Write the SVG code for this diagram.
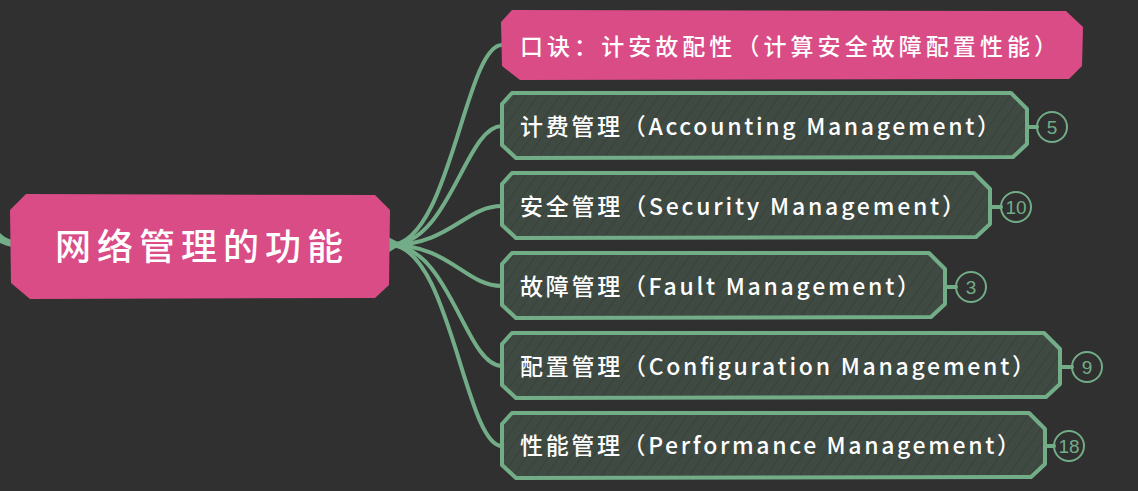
<svg xmlns="http://www.w3.org/2000/svg" width="1138" height="491" viewBox="0 0 1138 491">
<defs>
<pattern id="hatch" width="9" height="9" patternUnits="userSpaceOnUse" patternTransform="rotate(35)">
<rect width="9" height="9" fill="#3f4a43"/>
<line x1="0" y1="0" x2="0" y2="9" stroke="#323a34" stroke-width="1.2"/>
</pattern>
<style>
.conn{fill:none;stroke:#72ad88;stroke-width:4;stroke-linecap:round}
.sub{fill:url(#hatch);stroke:#72ad88;stroke-width:4;stroke-linejoin:round}
.pink{fill:#d94c86}
.t{font-family:"Noto Sans CJK SC","Noto Sans",sans-serif;fill:#ffffff;font-size:23px;font-weight:500}
.big{font-size:36px}
.badge{fill:none;stroke:#72ad88;stroke-width:2}
.bt{font-family:"Liberation Sans",Arial,sans-serif;fill:#72ad88;font-size:19px;text-anchor:middle}
</style>
</defs>
<rect width="1138" height="491" fill="#303030"/>
<g id="connectors">
<path d="M12,240 C6,238 3,236 0,233 L0,243 C4,245 8,246 12,247 Z" fill="#72ad88"/>
<path d="M386,236 L402,244 L386,254 Z" fill="#72ad88"/>
<path class="conn" d="M390,245 C450,245 465,45 502,45"/>
<path class="conn" d="M390,245 C450,245 465,126 502,126"/>
<path class="conn" d="M390,245 C450,245 465,206 502,206"/>
<path class="conn" d="M390,245 C450,245 465,286 502,286"/>
<path class="conn" d="M390,245 C450,245 465,366 502,366"/>
<path class="conn" d="M390,245 C450,245 465,446 502,446"/>
<path class="conn" stroke-width="3" d="M1027,127 L1037,127"/>
<path class="conn" stroke-width="3" d="M990,207 L1001,207"/>
<path class="conn" stroke-width="3" d="M945,287 L956,287"/>
<path class="conn" stroke-width="3" d="M1060,367 L1072,367"/>
<path class="conn" stroke-width="3" d="M1045,446 L1054,446"/>
</g>
<g id="root">
<path class="pink" d="M26,194 L375,195 L390,210 L389,285 L375,298 L30,299 L11,283 L10,210 Z"/>
<text class="t big" x="55" y="260" textLength="288" lengthAdjust="spacing">网络管理的功能</text>
</g>
<g id="n-mnemonic">
<path class="pink" d="M512,10 L1066,11 L1083,27 L1082,66 L1069,79 L520,80 L502,66 L501,22 Z"/>
<text class="t" x="520" y="55" textLength="537" lengthAdjust="spacing">口诀：计安故配性（计算安全故障配置性能）</text>
</g>
<g id="n-accounting">
<path class="sub" d="M512,93 L1011,93 L1027,109 L1027,144 L1013,157 L516,158 L502,145 L502,104 Z"/>
<text class="t" x="520" y="135" textLength="480" lengthAdjust="spacing">计费管理（Accounting Management）</text>
<circle class="badge" cx="1052" cy="127" r="15"/>
<text class="bt" x="1052" y="134">5</text>
</g>
<g id="n-security">
<path class="sub" d="M512,173 L974,173 L990,189 L990,224 L976,237 L516,238 L502,225 L502,184 Z"/>
<text class="t" x="520" y="215" textLength="445" lengthAdjust="spacing">安全管理（Security Management）</text>
<circle class="badge" cx="1016" cy="207" r="15"/>
<text class="bt" x="1016" y="214">10</text>
</g>
<g id="n-fault">
<path class="sub" d="M512,253 L929,253 L945,269 L945,304 L931,317 L516,318 L502,305 L502,264 Z"/>
<text class="t" x="520" y="295" textLength="400" lengthAdjust="spacing">故障管理（Fault Management）</text>
<circle class="badge" cx="971" cy="287" r="15"/>
<text class="bt" x="971" y="294">3</text>
</g>
<g id="n-configuration">
<path class="sub" d="M512,333 L1044,333 L1060,349 L1060,384 L1046,397 L516,398 L502,385 L502,344 Z"/>
<text class="t" x="520" y="375" textLength="515" lengthAdjust="spacing">配置管理（Configuration Management）</text>
<circle class="badge" cx="1087" cy="367" r="15"/>
<text class="bt" x="1087" y="374">9</text>
</g>
<g id="n-performance">
<path class="sub" d="M512,413 L1029,413 L1045,429 L1045,464 L1031,477 L516,478 L502,465 L502,424 Z"/>
<text class="t" x="520" y="454" textLength="500" lengthAdjust="spacing">性能管理（Performance Management）</text>
<circle class="badge" cx="1069" cy="446" r="15"/>
<text class="bt" x="1069" y="453">18</text>
</g>
</svg>
